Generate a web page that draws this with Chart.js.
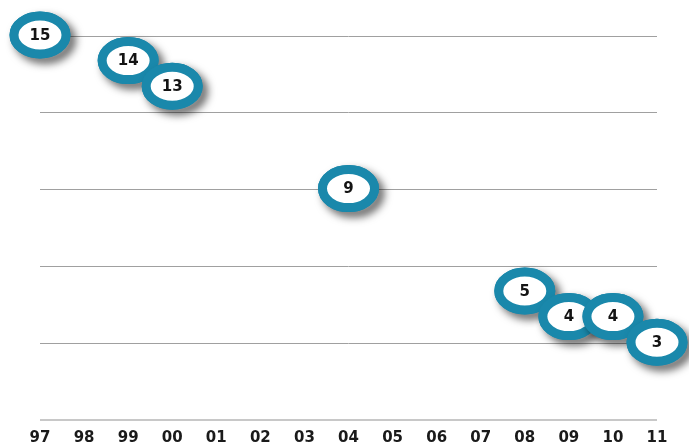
<!DOCTYPE html>
<html>
<head>
<meta charset="utf-8">
<script src="https://cdn.jsdelivr.net/npm/chart.js@4"></script>
<style>
  html, body { margin: 0; padding: 0; background: #fff; }
  #wrap { width: 689px; height: 443px; position: relative; }
</style>
</head>
<body>
<div id="wrap"><canvas id="chart"></canvas></div>
<script>
// years on the x axis
const years = ['97', '98', '99', '00', '01', '02', '03', '04', '05', '06', '07', '08', '09', '10', '11'];
// values shown in the bubbles (null = no bubble that year)
const counts = [15, null, 14, 13, null, null, null, 9, null, null, null, 5, 4, 4, 3];
// horizontal rule levels
const yTicks = [0, 3, 6, 9, 12, 15];

const ringColor = '#1a88ab';
const font = "'DejaVu Sans', Verdana, sans-serif";

// draw the ring bubbles with their numbers, one after the other so later ones overlap
const bubbles = {
  id: 'bubbles',
  afterDatasetsDraw(chart) {
    const ctx = chart.ctx;
    const meta = chart.getDatasetMeta(0);
    meta.data.forEach(function (pt, i) {
      const v = counts[i];
      if (v === null) return;
      const x = pt.x, y = pt.y - 1;
      ctx.save();
      ctx.beginPath();
      ctx.ellipse(x, y, 26, 19, 0, 0, Math.PI * 2);
      ctx.shadowColor = 'rgba(0,0,0,0.65)';
      ctx.shadowBlur = 9;
      ctx.shadowOffsetX = 5;
      ctx.shadowOffsetY = 5;
      ctx.lineWidth = 9;
      ctx.strokeStyle = ringColor;
      ctx.stroke();
      ctx.shadowColor = 'transparent';
      ctx.fillStyle = '#fff';
      ctx.fill();
      ctx.stroke();
      ctx.fillStyle = '#141414';
      ctx.font = 'bold 15px ' + font;
      ctx.textAlign = 'center';
      ctx.textBaseline = 'middle';
      ctx.fillText(String(v), x, y + 1);
      ctx.restore();
    });
  }
};

new Chart(document.getElementById('chart'), {
  type: 'line',
  data: {
    labels: years,
    datasets: [{
      data: counts,
      showLine: false,
      pointRadius: 0,
      pointHoverRadius: 0
    }]
  },
  options: {
    responsive: true,
    maintainAspectRatio: false,
    animation: false,
    events: [],
    layout: { padding: { left: 40, right: 32, top: 36, bottom: -13 } },
    plugins: { legend: { display: false }, tooltip: { enabled: false } },
    scales: {
      x: {
        offset: false,
        grid: { display: false, drawTicks: false },
        border: { display: false },
        ticks: {
          color: '#1a1a1a',
          padding: 9,
          maxRotation: 0,
          autoSkip: false,
          font: { family: font, size: 15, weight: 'bold' }
        }
      },
      y: {
        min: 0,
        max: 15,
        afterBuildTicks: function (axis) {
          axis.ticks = yTicks.map(function (v) { return { value: v }; });
        },
        border: { display: false },
        grid: {
          drawTicks: false,
          color: function (c) { return c.tick && c.tick.value === 0 ? '#c8c8c8' : '#a0a0a0'; },
          lineWidth: function (c) { return c.tick && c.tick.value === 0 ? 2 : 1; }
        },
        ticks: { display: false }
      }
    }
  },
  plugins: [bubbles]
});
</script>
</body>
</html>
